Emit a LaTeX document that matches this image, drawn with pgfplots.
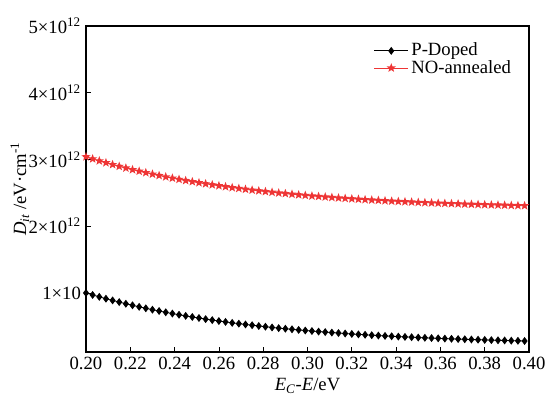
\documentclass[border=0pt]{standalone}
\usepackage{fontspec}
\setmainfont{Liberation Serif}
\usepackage{pgfplots}
\usepackage{pgfplotstable}
\pgfplotsset{compat=1.18}
\definecolor{starred}{HTML}{EE3535}
\pgfdeclareplotmark{fstar}{%
  \pgfpathmoveto{\pgfpointpolar{90}{\pgfplotmarksize}}%
  \pgfpathlineto{\pgfpointpolar{126}{0.42\pgfplotmarksize}}%
  \pgfpathlineto{\pgfpointpolar{162}{\pgfplotmarksize}}%
  \pgfpathlineto{\pgfpointpolar{198}{0.42\pgfplotmarksize}}%
  \pgfpathlineto{\pgfpointpolar{234}{\pgfplotmarksize}}%
  \pgfpathlineto{\pgfpointpolar{270}{0.42\pgfplotmarksize}}%
  \pgfpathlineto{\pgfpointpolar{306}{\pgfplotmarksize}}%
  \pgfpathlineto{\pgfpointpolar{342}{0.42\pgfplotmarksize}}%
  \pgfpathlineto{\pgfpointpolar{18}{\pgfplotmarksize}}%
  \pgfpathlineto{\pgfpointpolar{54}{0.42\pgfplotmarksize}}%
  \pgfpathclose
  \pgfusepathqfill}
\pgfplotstableread{
x pd no
0.200 1.000 3.040
0.203 0.970 3.009
0.206 0.942 2.979
0.209 0.914 2.951
0.212 0.888 2.923
0.215 0.863 2.897
0.218 0.838 2.872
0.221 0.815 2.847
0.224 0.792 2.824
0.227 0.770 2.802
0.230 0.749 2.780
0.233 0.729 2.759
0.236 0.710 2.739
0.239 0.691 2.720
0.242 0.673 2.702
0.245 0.656 2.684
0.248 0.640 2.667
0.251 0.624 2.651
0.254 0.608 2.635
0.257 0.593 2.620
0.260 0.579 2.606
0.263 0.566 2.592
0.266 0.552 2.578
0.269 0.540 2.566
0.272 0.528 2.553
0.275 0.516 2.541
0.278 0.505 2.530
0.281 0.494 2.519
0.284 0.483 2.509
0.287 0.473 2.498
0.290 0.464 2.489
0.293 0.455 2.479
0.296 0.446 2.470
0.299 0.437 2.462
0.302 0.429 2.453
0.305 0.421 2.446
0.308 0.413 2.438
0.311 0.406 2.431
0.314 0.399 2.423
0.317 0.392 2.417
0.320 0.385 2.410
0.323 0.379 2.404
0.326 0.373 2.398
0.329 0.367 2.392
0.332 0.362 2.387
0.335 0.356 2.381
0.338 0.351 2.376
0.341 0.346 2.371
0.344 0.341 2.366
0.347 0.337 2.362
0.350 0.332 2.357
0.353 0.328 2.353
0.356 0.324 2.349
0.359 0.320 2.345
0.362 0.316 2.342
0.365 0.313 2.338
0.368 0.309 2.335
0.371 0.306 2.331
0.374 0.302 2.328
0.377 0.299 2.325
0.380 0.296 2.322
0.383 0.293 2.319
0.386 0.291 2.317
0.389 0.288 2.314
0.392 0.285 2.311
0.395 0.283 2.309
0.398 0.280 2.307
}\datatable
\begin{document}
\fontsize{14}{16}\selectfont
\begin{tikzpicture}
\begin{axis}[
  scale only axis,
  width=332.25pt, height=244.5pt,
  xmin=0.2, xmax=0.4, ymin=0.115, ymax=5,
  xtick={0.20,0.22,...,0.401},
  xticklabel style={yshift=1pt, /pgf/number format/.cd, fixed, fixed zerofill, precision=2},
  ytick={1,2,3,4,5},
  yticklabels={1×10, 2×10\textsuperscript{12}, 3×10\textsuperscript{12}, 4×10\textsuperscript{12}, 5×10\textsuperscript{12}},
  /pgf/number format/assume math mode=true,
  tick label style={font=\fontsize{14}{16}\selectfont},
  yticklabel style={xshift=1pt},
  xtick pos=bottom, ytick pos=left,
  tick align=inside,
  major tick length=4pt,
  axis line style={line width=0.8pt},
  tick style={line width=0.6pt, black},
  clip=false,
  xlabel={\textit{E}\textsubscript{\textit{C}}-\textit{E}/eV},
  ylabel={\textit{D}\textsubscript{\textit{it}} /eV·cm\textsuperscript{-1}},
  label style={font=\fontsize{14}{16}\selectfont},
  xlabel style={yshift=3pt},
  ylabel style={yshift=-10pt},
  legend style={draw=none, fill=none, at={(0.64,0.965)}, anchor=north west,
    font=\fontsize{14}{16}\selectfont, row sep=-3pt},
  legend cell align=left,
  legend image code/.code={%
    \draw[#1] (0cm,0cm) -- (0.9cm,0cm);
    \path[#1] plot coordinates {(0.45cm,0cm)};},
]
\addplot[black, line width=0.6pt, mark=diamond*, mark size=2.5pt, mark options={fill=black}] table[x=x,y=pd] {\datatable};
\addlegendentry{P-Doped}
\addplot[starred, line width=0.6pt, mark=fstar, mark size=3.6pt, mark options={fill=starred}] table[x=x,y=no] {\datatable};
\addlegendentry{NO-annealed}
\end{axis}
\pgfresetboundingbox
\path ([xshift=-64.5pt,yshift=-33pt]current axis.south west) rectangle ([xshift=14.25pt,yshift=19.5pt]current axis.north east);
\end{tikzpicture}
\end{document}
